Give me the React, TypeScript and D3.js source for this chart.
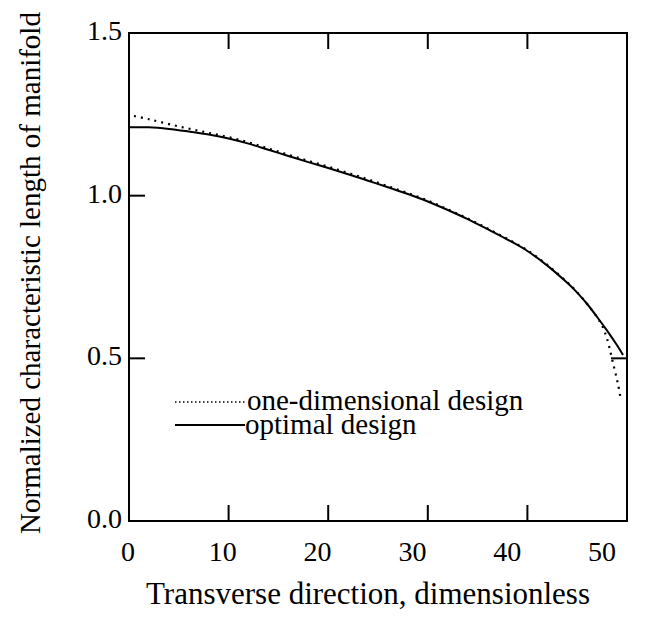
import React from "react";
import * as d3 from "d3";

const xTicks = [0, 10, 20, 30, 40, 50];
const yTicks = [0.0, 0.5, 1.0, 1.5];
const yTickLabels = ["0.0", "0.5", "1.0", "1.5"];

const optimalX = [0, 2, 4, 6, 8, 10, 12, 14, 16, 18, 20, 22, 24, 26, 28, 30, 32, 34, 36, 38, 40, 42, 44, 45, 46, 47, 48, 49, 49.6];
const optimalY = [1.21, 1.21, 1.205, 1.197, 1.188, 1.176, 1.16, 1.141, 1.122, 1.103, 1.085, 1.066, 1.046, 1.026, 1.005, 0.982, 0.956, 0.928, 0.897, 0.865, 0.83, 0.785, 0.732, 0.702, 0.667, 0.627, 0.585, 0.54, 0.51];

const oneDimX = [0.5, 2, 4, 6, 8, 10, 12, 14, 16, 18, 20, 22, 24, 26, 28, 30, 32, 34, 36, 38, 40, 42, 44, 45, 46, 47, 47.5, 48, 48.6, 49.1, 49.4];
const oneDimY = [1.245, 1.235, 1.22, 1.206, 1.193, 1.18, 1.164, 1.145, 1.126, 1.107, 1.089, 1.07, 1.05, 1.029, 1.008, 0.985, 0.958, 0.93, 0.899, 0.867, 0.832, 0.787, 0.734, 0.703, 0.667, 0.626, 0.6, 0.56, 0.485, 0.42, 0.37];

const legendLabels = ["one-dimensional design", "optimal design"];
const xTitle = "Transverse direction, dimensionless";
const yTitle = "Normalized characteristic length of manifold";

export default function App() {
  const W = 652, H = 631;
  const left = 129, right = 627, top = 33, bottom = 521;
  const x = d3.scaleLinear().domain([0, 50]).range([left, right]);
  const y = d3.scaleLinear().domain([0, 1.5]).range([bottom, top]);
  const xLabel = d3.scaleLinear().domain([0, 50]).range([128, 602]);

  const line = d3.line<[number, number]>().x(d => x(d[0])).y(d => y(d[1])).curve(d3.curveCatmullRom.alpha(0.5));
  const optPts = optimalX.map((v, i) => [v, optimalY[i]] as [number, number]);
  const onePts = oneDimX.map((v, i) => [v, oneDimY[i]] as [number, number]);

  const font = "'Liberation Serif', 'Times New Roman', serif";
  const tickLen = 16;

  return (
    <svg width={W} height={H} style={{ position: "absolute", left: 0, top: 0, background: "#fff" }} fontFamily={font}>
      <rect x={0} y={0} width={W} height={H} fill="#fff" />
      <rect x={left} y={top} width={right - left} height={bottom - top} fill="none" stroke="#000" strokeWidth={2} />
      {xTicks.filter(t => t > 0 && t < 50).map(t => (
        <g key={"xt" + t}>
          <line x1={x(t)} x2={x(t)} y1={bottom} y2={bottom - tickLen} stroke="#000" strokeWidth={2} />
          <line x1={x(t)} x2={x(t)} y1={top} y2={top + tickLen} stroke="#000" strokeWidth={2} />
        </g>
      ))}
      {[0.5, 1.0].map(t => (
        <line key={"yl" + t} x1={left} x2={left + tickLen} y1={y(t)} y2={y(t)} stroke="#000" strokeWidth={2} />
      ))}
      <line x1={right} x2={right - tickLen} y1={y(0.5)} y2={y(0.5)} stroke="#000" strokeWidth={2} />
      {xTicks.map(t => (
        <text key={"xl" + t} x={xLabel(t)} y={561} textAnchor="middle" fontSize={28} fill="#000">{t}</text>
      ))}
      {yTicks.map((t, i) => (
        <text key={"ylb" + t} x={122} y={y(t) + 7} textAnchor="end" fontSize={28} fill="#000">{yTickLabels[i]}</text>
      ))}
      <path d={line(onePts) || ""} fill="none" stroke="#000" strokeWidth={2.2} strokeDasharray="2,5" />
      <path d={line(optPts) || ""} fill="none" stroke="#000" strokeWidth={2} />
      <line x1={175} x2={246} y1={402} y2={402} stroke="#000" strokeWidth={1.5} strokeDasharray="1.5,2.5" />
      <text x={247} y={410} fontSize={29} fill="#000">{legendLabels[0]}</text>
      <line x1={175} x2={245} y1={425} y2={425} stroke="#000" strokeWidth={2} />
      <text x={245} y={434} fontSize={29} fill="#000">{legendLabels[1]}</text>
      <text x={368} y={604} textAnchor="middle" fontSize={31} fill="#000">{xTitle}</text>
      <text transform={`translate(40, 273) rotate(-90)`} textAnchor="middle" fontSize={29} fill="#000">{yTitle}</text>
    </svg>
  );
}
